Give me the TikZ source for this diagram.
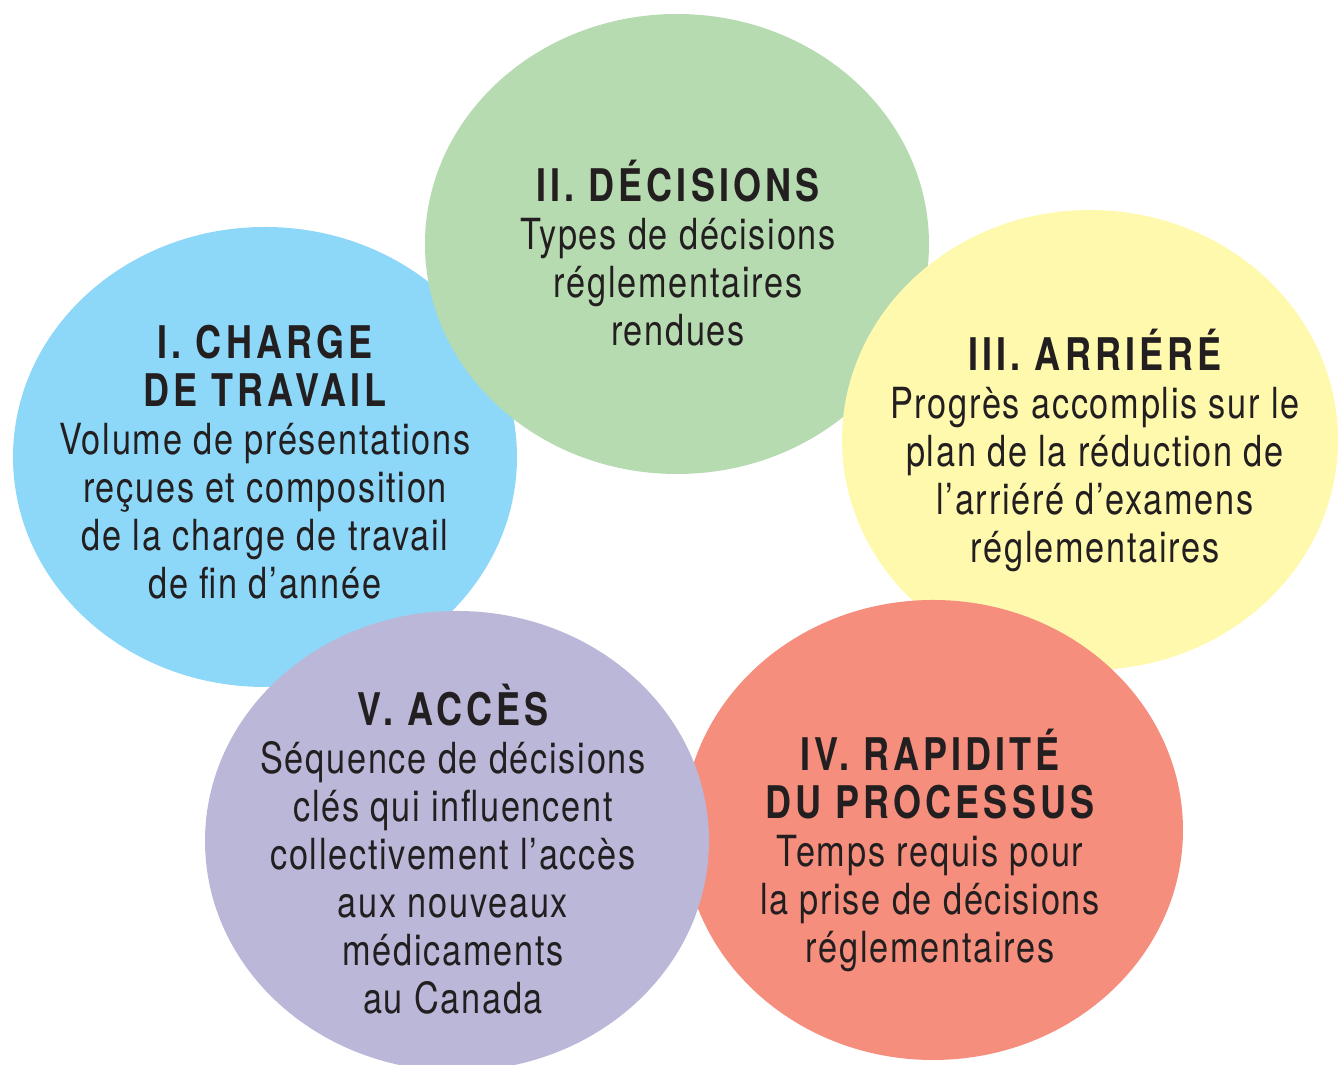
\documentclass[tikz,border=0pt]{standalone}
\usepackage{fontspec}
\setmainfont{TeX Gyre Heros}[FakeStretch=0.8,LetterSpace=4]

\definecolor{bleu}{HTML}{8DD8F8}
\definecolor{vert}{HTML}{B6DBB0}
\definecolor{jaune}{HTML}{FFF9AE}
\definecolor{saumon}{HTML}{F58E7C}
\definecolor{mauve}{HTML}{BAB7D9}
\definecolor{encre}{HTML}{231F20}

\tikzset{
  texte/.style={align=center, text=encre, inner sep=0pt,
    font=\fontsize{12.2}{13.66}\selectfont},
}
\newcommand{\titre}[1]{{\fontsize{12.8}{13.66}\selectfont\bfseries\addfontfeature{LetterSpace=9}#1}}

\begin{document}
\begin{tikzpicture}
        \useasboundingbox (0,0) rectangle (13.38,10.65);

        % Les cinq bulles, de gauche a droite (chacune recouvre la precedente)
        \fill[bleu]   (2.65,6.08)  ellipse [x radius=2.52, y radius=2.30];
        \fill[vert]   (6.77,8.21)  ellipse [x radius=2.52, y radius=2.30];
        \fill[jaune]  (10.90,6.25) ellipse [x radius=2.48, y radius=2.30];
        \fill[saumon] (9.33,2.35)  ellipse [x radius=2.50, y radius=2.30];
        \fill[mauve]  (4.57,2.24)  ellipse [x radius=2.52, y radius=2.30];

        % Textes
        \node[texte] (charge) at (2.65,6.03) {\titre{I. CHARGE}\\ \titre{DE TRAVAIL}\\
            Volume de présentations\\ reçues et composition\\
            de la charge de travail\\ de fin d’année};
        \node[texte] (decisions) at (6.78,8.12) {\titre{II. DÉCISIONS}\\
            Types de décisions\\ réglementaires\\ rendues};
        \node[texte] (arriere) at (10.95,6.15) {\titre{III. ARRIÉRÉ}\\
            Progrès accomplis sur le\\ plan de la réduction de\\
            l’arriéré d’examens\\ réglementaires};
        \node[texte] (rapidite) at (9.30,2.15) {\titre{IV. RAPIDITÉ}\\
            \titre{DU PROCESSUS}\\ Temps requis pour\\
            la prise de décisions\\ réglementaires};
        \node[texte] (acces) at (4.53,2.16) {\titre{V. ACCÈS}\\
            Séquence de décisions\\ clés qui influencent\\
            collectivement l’accès\\ aux nouveaux\\ médicaments\\ au Canada};
\end{tikzpicture}
\end{document}
